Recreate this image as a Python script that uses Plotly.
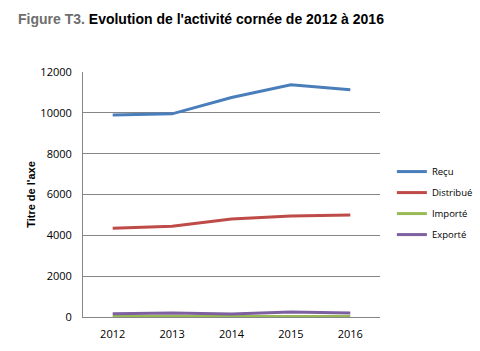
import plotly.graph_objects as go

years = ["2012", "2013", "2014", "2015", "2016"]
recu = [9900, 9950, 10750, 11380, 11130]
distribue = [4350, 4450, 4800, 4950, 5000]
importe = [30, 30, 30, 30, 30]
exporte = [160, 200, 150, 250, 200]
names = ["Reçu", "Distribué", "Importé", "Exporté"]
colors = ["#4A7EBB", "#BE4B48", "#98B954", "#7D60A0"]
series = [recu, distribue, importe, exporte]
yticks = [0, 2000, 4000, 6000, 8000, 10000, 12000]

fig = go.Figure()
for n, s, c in zip(names, series, colors):
    fig.add_trace(go.Scatter(x=years, y=s, name=n, mode="lines", legendgroup=n,
                             line=dict(color=c, width=3)))

fig.update_layout(
    width=480, height=351,
    margin=dict(l=83, r=100, t=72, b=34, autoexpand=False),
    paper_bgcolor="white", plot_bgcolor="white",
    font=dict(family="Liberation Sans, Arial", color="#000000"),
    title=dict(
        text="<b><span style='color:#6e6e6e'>Figure T3.</span> Evolution de l'activité cornée de 2012 à 2016</b>",
        x=18/480, xanchor="left", xref="container", y=1-19/351, yanchor="middle",
        yref="container",
        font=dict(size=14, family="Liberation Sans, Arial"),
    ),
    showlegend=True,
    legend=dict(x=1.04, y=0.465, xanchor="left", yanchor="middle",
                font=dict(size=9.5, family="Open Sans"), tracegroupgap=2,
                bgcolor="rgba(0,0,0,0)"),
    xaxis=dict(type="category", range=[-0.5, 4.5], showgrid=False,
               showline=True, linecolor="#868686", linewidth=1,
               ticks="", ticklabelstandoff=7, tickfont=dict(size=11, family="Open Sans")),
    yaxis=dict(range=[0, 12000], tickvals=yticks, ticktext=[str(v) for v in yticks],
               showgrid=True, gridcolor="#868686", gridwidth=1,
               showline=True, linecolor="#868686", linewidth=1, zeroline=False,
               ticks="", ticklabelstandoff=8, tickfont=dict(size=11, family="Open Sans"),
               title=dict(text="<b>Titre de l'axe</b>", font=dict(size=11, family="Liberation Sans, Arial"), standoff=2)),
)

fig.write_html("out.html")
